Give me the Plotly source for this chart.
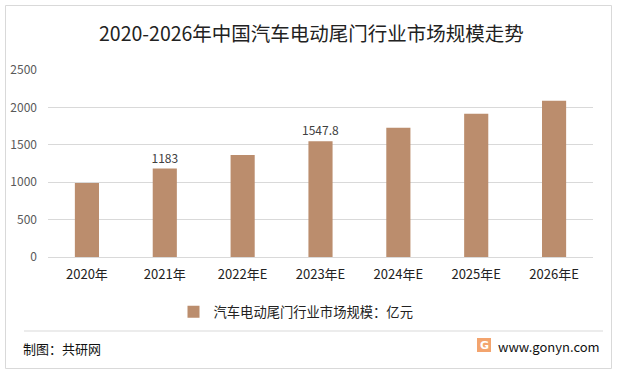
import plotly.graph_objects as go

categories = ["2020年", "2021年", "2022年E", "2023年E", "2024年E", "2025年E", "2026年E"]
values = [990, 1183, 1365, 1547.8, 1728, 1915, 2088]
labels = ["", "1183", "", "1547.8", "", "", ""]
series_name = "汽车电动尾门行业市场规模：亿元"
title_text = "2020-2026年中国汽车电动尾门行业市场规模走势"
source_text = "制图：共研网"
site_text = "www.gonyn.com"

W, H = 618, 374
L, R, T, B = 48, 593, 70, 257
FONT = "Noto Sans CJK SC"
BAR = "#BB8D6D"


def px(x):
    return x / W


def py(y):
    return (H - y) / H


fig = go.Figure()
fig.add_trace(go.Bar(
    x=categories, y=values, name=series_name,
    marker=dict(color=BAR, line=dict(width=0)),
    width=0.31,
    text=labels, textposition="outside", cliponaxis=False,
    constraintext="none",
    textfont=dict(size=12, color="#404040", family=FONT),
))

shapes = [
    dict(type="rect", xref="paper", yref="paper",
         x0=px(5.5), x1=px(611.5), y0=py(5.5), y1=py(368.5),
         line=dict(color="#D9D9D9", width=1), layer="below"),
    dict(type="line", xref="paper", yref="paper",
         x0=px(24), x1=px(603), y0=py(331), y1=py(331),
         line=dict(color="#D9D9D9", width=1)),
    dict(type="rect", xref="paper", yref="paper",
         x0=px(477), x1=px(491), y0=py(338), y1=py(352),
         fillcolor="#F3A46E", line=dict(width=0)),
]

annotations = [
    dict(text=title_text, xref="paper", yref="paper", x=px(311), y=py(32),
         showarrow=False, xanchor="center", yanchor="middle",
         font=dict(size=19.5, color="#222222", family=FONT)),
    dict(text=source_text, xref="paper", yref="paper", x=px(21), y=py(348),
         showarrow=False, xanchor="left", yanchor="middle",
         font=dict(size=13, color="#111111", family=FONT)),
    dict(text=site_text, xref="paper", yref="paper", x=px(496), y=py(346),
         showarrow=False, xanchor="left", yanchor="middle",
         font=dict(size=13, color="#111111", family=FONT)),
    dict(text="<b>G</b>", xref="paper", yref="paper", x=px(484), y=py(345),
         showarrow=False, xanchor="center", yanchor="middle",
         font=dict(size=11, color="#FFFFFF", family="DejaVu Sans")),
]

fig.update_layout(
    width=W, height=H,
    margin=dict(l=0, r=0, t=0, b=0, pad=0),
    paper_bgcolor="#FFFFFF", plot_bgcolor="#FFFFFF",
    font=dict(family=FONT, color="#404040", size=12),
    showlegend=True,
    legend=dict(orientation="h", xanchor="center", yanchor="middle",
                x=px(296), y=py(312), bgcolor="rgba(0,0,0,0)",
                font=dict(size=13.3, color="#222222", family=FONT),
                itemwidth=30, itemsizing="constant"),
    shapes=shapes, annotations=annotations,
)
fig.update_xaxes(domain=[L / W, R / W], showline=False, ticks="", showgrid=False,
                 automargin=False,
                 tickfont=dict(size=13, color="#222222", family=FONT),
                 ticklabelstandoff=8)
fig.update_yaxes(domain=[(H - B) / H, (H - T) / H], range=[0, 2500], dtick=500,
                 showline=False, ticks="", automargin=False,
                 gridcolor="#D9D9D9", gridwidth=1, zeroline=True,
                 zerolinecolor="#D9D9D9", zerolinewidth=1,
                 tickfont=dict(size=12, color="#595959", family=FONT),
                 ticklabelstandoff=10)

fig.write_html("out.html", config={"displayModeBar": False},
               post_script="document.body.style.margin='0';")
